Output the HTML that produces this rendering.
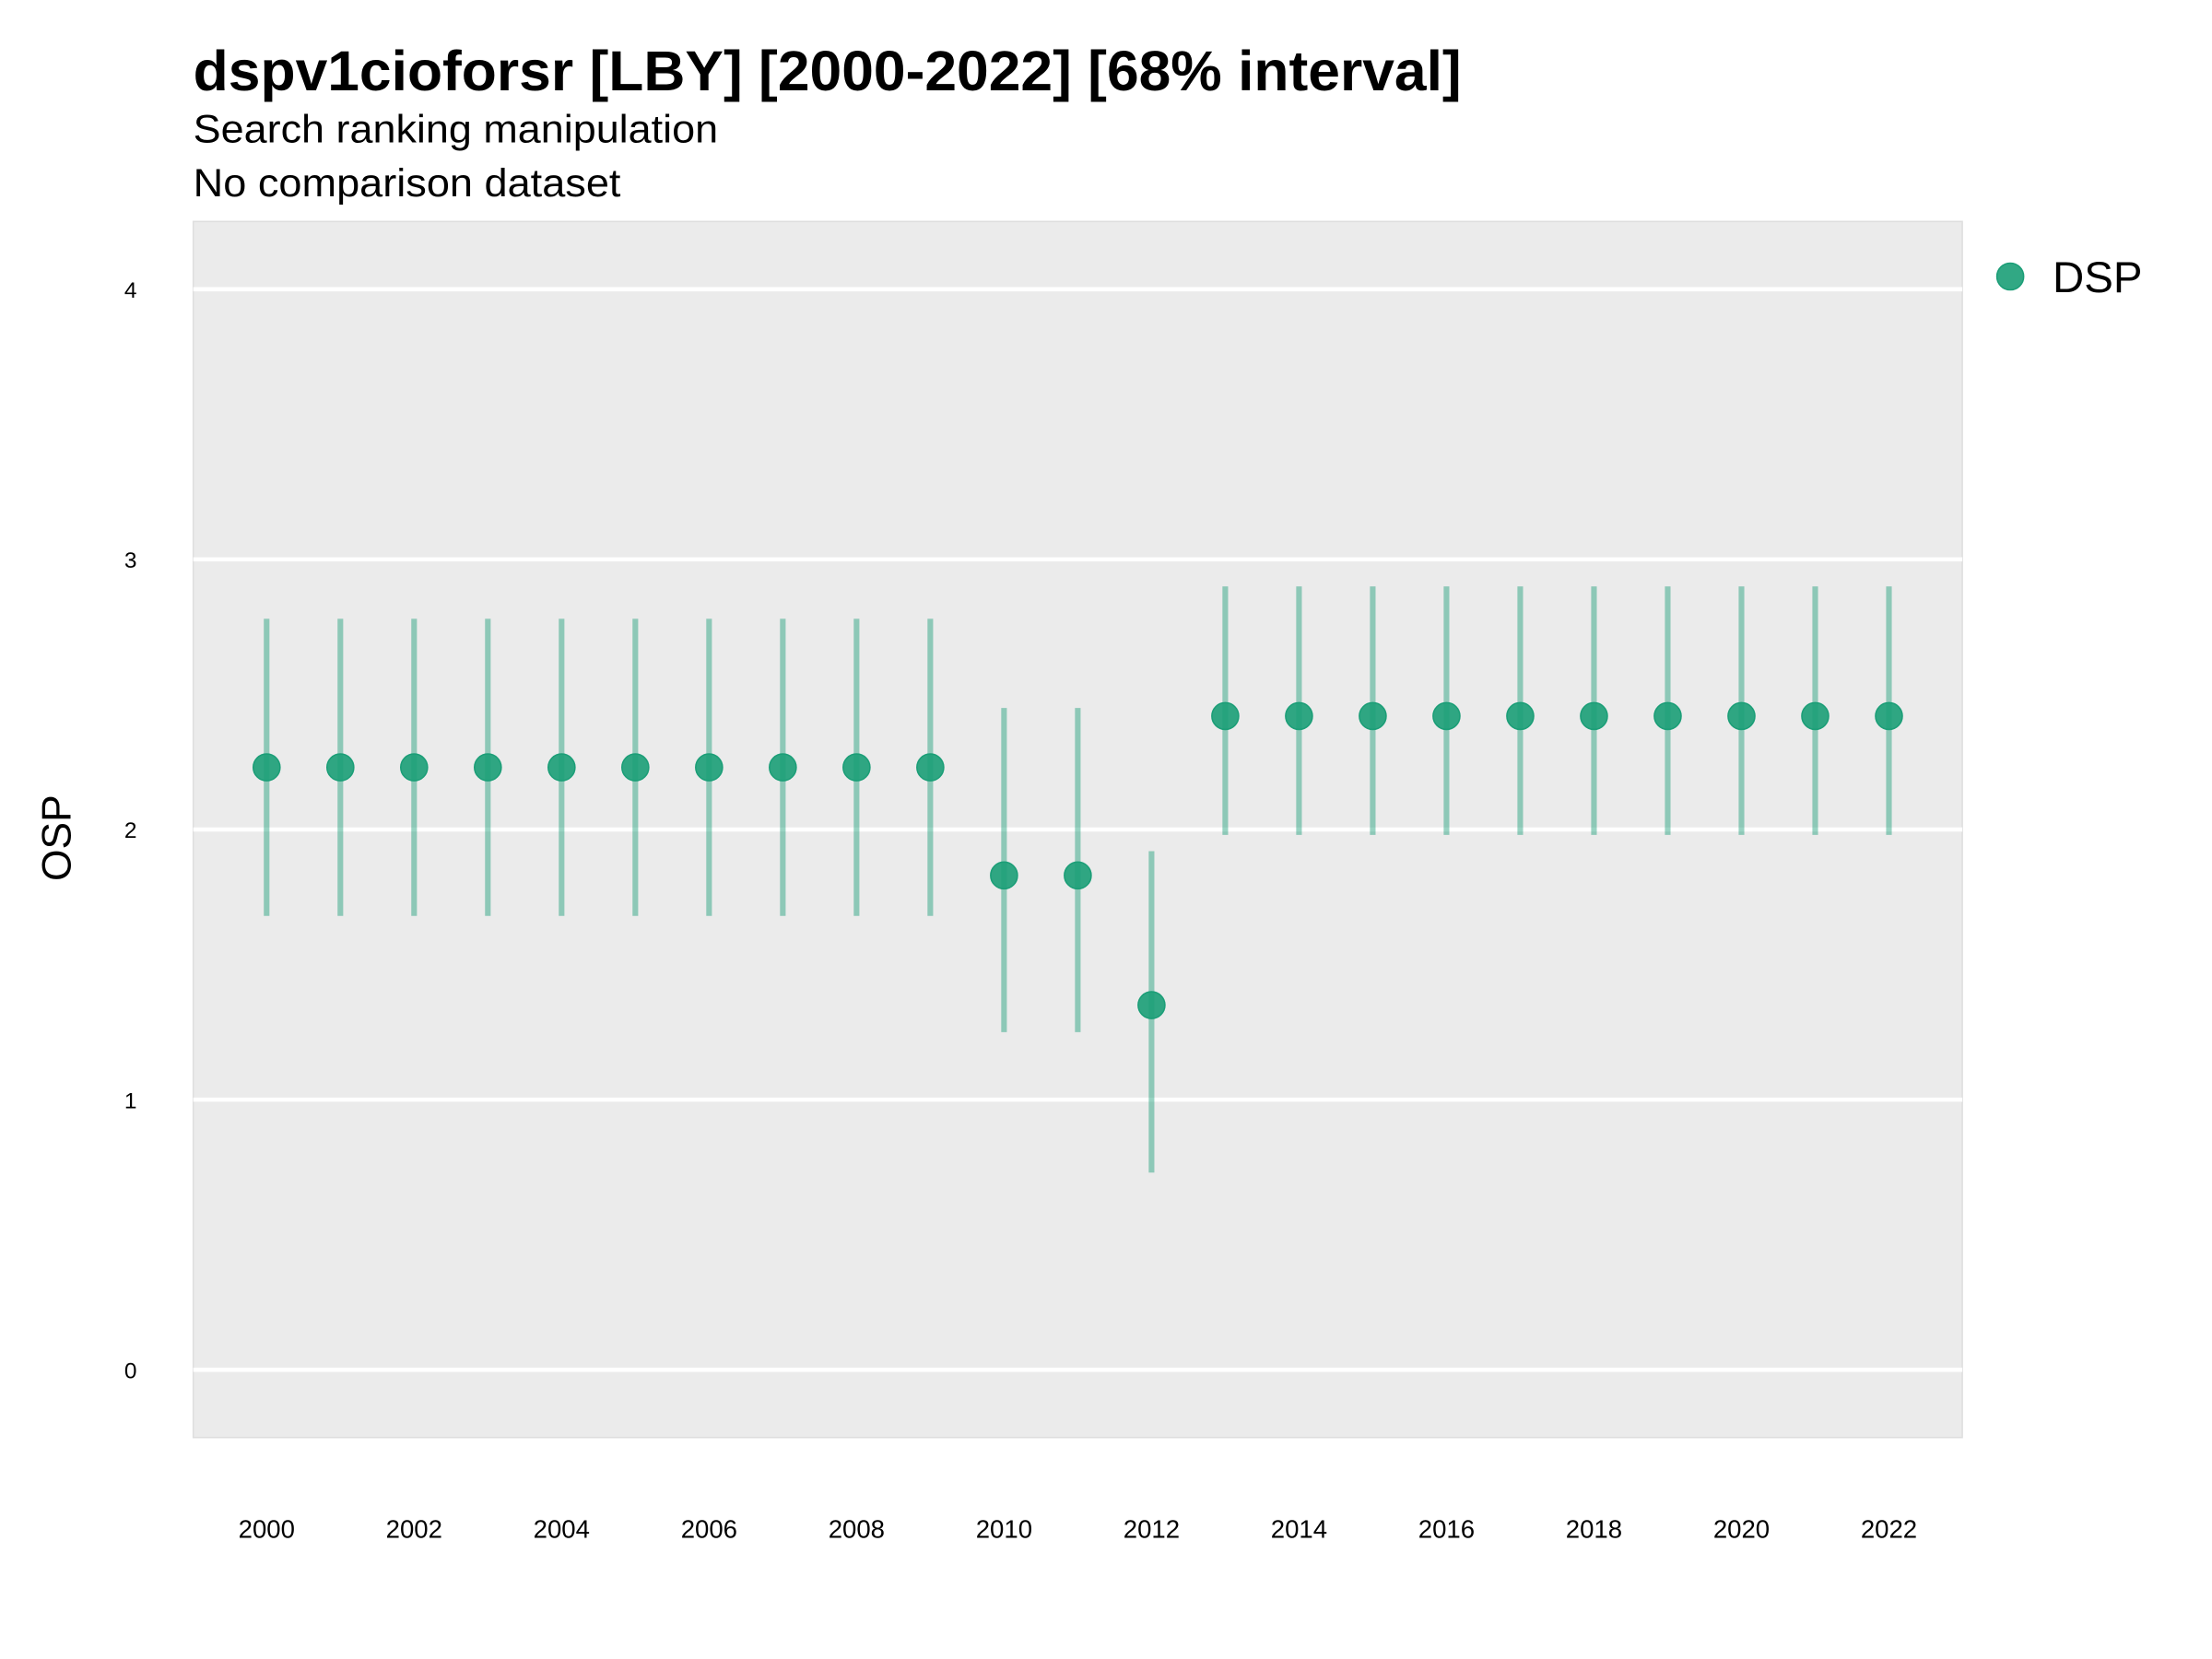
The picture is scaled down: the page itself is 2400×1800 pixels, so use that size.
<!DOCTYPE html>
<html><head><meta charset="utf-8"><style>body{margin:0;background:#fff}svg{display:block}text{font-family:"Liberation Sans",sans-serif}</style></head>
<body>
<svg id="chart" width="2400" height="1800" viewBox="0 0 1568 1176" xmlns="http://www.w3.org/2000/svg">
<text x="137" y="64" font-size="40" font-weight="bold" textLength="899" lengthAdjust="spacingAndGlyphs">dspv1cioforsr [LBY] [2000-2022] [68% interval]</text>
<text x="137" y="101" font-size="28" textLength="372" lengthAdjust="spacingAndGlyphs">Search ranking manipulation</text>
<text x="137" y="139" font-size="28" textLength="303" lengthAdjust="spacingAndGlyphs">No comparison dataset</text>
<rect x="137" y="157" width="1254" height="862" fill="#ebebeb" stroke="#dedede" stroke-width="1"/>
<g id="grid"></g><g id="marks"></g><g id="xticks"></g>
<text transform="translate(50,594) rotate(-90)" font-size="29" text-anchor="middle">OSP</text>
<circle cx="1425" cy="196" r="9.5" fill="#1b9e77" fill-opacity="0.9" stroke="#1b9e77" stroke-width="1"/>
<text x="1455" y="207" font-size="31">DSP</text>
</svg>
<script>
const years=[2000,2001,2002,2003,2004,2005,2006,2007,2008,2009,2010,2011,2012,2013,2014,2015,2016,2017,2018,2019,2020,2021,2022];
const mids=[2.23,2.23,2.23,2.23,2.23,2.23,2.23,2.23,2.23,2.23,1.83,1.83,1.35,2.42,2.42,2.42,2.42,2.42,2.42,2.42,2.42,2.42,2.42];
const lows=[1.68,1.68,1.68,1.68,1.68,1.68,1.68,1.68,1.68,1.68,1.25,1.25,0.73,1.98,1.98,1.98,1.98,1.98,1.98,1.98,1.98,1.98,1.98];
const highs=[2.78,2.78,2.78,2.78,2.78,2.78,2.78,2.78,2.78,2.78,2.45,2.45,1.92,2.90,2.90,2.90,2.90,2.90,2.90,2.90,2.90,2.90,2.90];
const yTicks=[0,1,2,3,4];
const xTickLabels=[2000,2002,2004,2006,2008,2010,2012,2014,2016,2018,2020,2022];
const NS="http://www.w3.org/2000/svg";
const xs=v=>189+(v-2000)*(1339-189)/22;
const ys=v=>971-v*(971-205)/4;
function mk(tag,attrs,parent){const e=document.createElementNS(NS,tag);for(const k in attrs)e.setAttribute(k,attrs[k]);parent.appendChild(e);return e;}
const grid=document.getElementById('grid'),marks=document.getElementById('marks'),xt=document.getElementById('xticks');
yTicks.forEach(t=>{
 const l=mk('line',{x1:137,x2:1391,y1:ys(t),y2:ys(t),stroke:'#fff','stroke-width':3},grid);
 
 
 const tx=mk('text',{x:97,y:ys(t)+6,'font-size':16,'text-anchor':'end'},grid);
 tx.textContent=t;
 
 
});
years.forEach((y,i)=>{
 const l=mk('line',{x1:xs(y),x2:xs(y),y1:ys(lows[i]),y2:ys(highs[i]),stroke:'#1b9e77','stroke-opacity':0.45,'stroke-width':4},marks);
 
 
 const c=mk('circle',{cx:xs(y),cy:ys(mids[i]),r:9.5,fill:'#1b9e77','fill-opacity':0.9,stroke:'#1b9e77','stroke-width':1},marks);
 
 
});
xTickLabels.forEach(y=>{
 const tx=mk('text',{x:xs(y),y:1090,'font-size':18,'text-anchor':'middle'},xt);
 tx.textContent=y;
 
 
});
</script>
</body></html>
